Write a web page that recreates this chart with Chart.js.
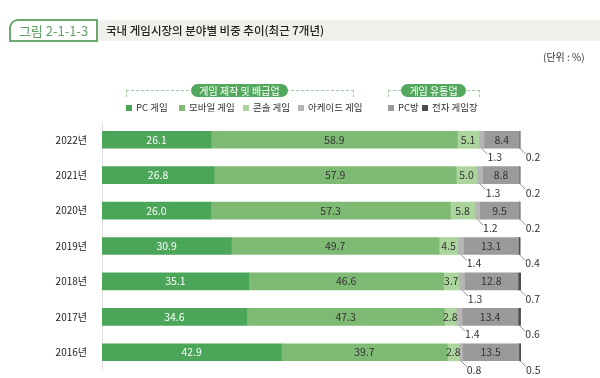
<!DOCTYPE html>
<html>
<head>
<meta charset="utf-8">
<script src="https://cdn.jsdelivr.net/npm/chart.js@4"></script>
<style>
    body { margin: 0; background: #fff; font-family: 'Noto Sans CJK KR', 'Noto Sans', sans-serif; }
    #wrap { position: relative; width: 600px; height: 378px; overflow: hidden; }
    #chart { position: absolute; left: 0; top: 0; }
    .band { position: absolute; left: 96px; top: 20px; width: 504px; height: 21px; background: #eef2ea; }
    .fig { position: absolute; left: 9px; top: 19px; width: 85px; height: 19px; border: 2px solid #6aaa6e; border-radius: 9px 0 0 0; background: #fff; color: #5f9f63; font-size: 13px; line-height: 19px; text-align: center; }
    .title { position: absolute; left: 106px; top: 20px; font-size: 11.5px; line-height: 21px; color: #222; font-weight: 500; }
    .unit { position: absolute; left: 543px; top: 49px; font-size: 10px; color: #333; }
    .bracket { position: absolute; border-top: 1px dashed #9fcc9f; border-left: 1px dashed #9fcc9f; border-right: 1px dashed #9fcc9f; height: 6px; }
    .pill { position: absolute; background: #52a85c; color: #fff; font-size: 10px; line-height: 13px; height: 13px; border-radius: 7px; text-align: center; }
    .item { position: absolute; top: 101px; font-size: 9.5px; color: #333; line-height: 13px; white-space: nowrap; }
    .item i { display: inline-block; width: 6px; height: 6px; margin-right: 4px; vertical-align: 0px; }
</style>
</head>
<body>
<div id="wrap">
    <canvas id="chart" width="600" height="378" style="width:600px;height:378px"></canvas>
    <div class="band"></div>
    <div class="fig">그림 2-1-1-3</div>
    <div class="title">국내 게임시장의 분야별 비중 추이(최근 7개년)</div>
    <div class="unit">(단위 : %)</div>
    <div class="bracket" style="left:126px; top:90px; width:226px;"></div>
    <div class="pill" style="left:191px; top:84px; width:97px;">게임 제작 및 배급업</div>
    <div class="bracket" style="left:388px; top:90px; width:90px;"></div>
    <div class="pill" style="left:401px; top:84px; width:65px;">게임 유통업</div>
    <div id="legend"></div>
</div>
<script>
// Years shown on the vertical axis (newest first)
const years = ['2022년', '2021년', '2020년', '2019년', '2018년', '2017년', '2016년'];

// Shares by sector, in %
const pcGame = [26.1, 26.8, 26.0, 30.9, 35.1, 34.6, 42.9];
const mobileGame = [58.9, 57.9, 57.3, 49.7, 46.6, 47.3, 39.7];
const consoleGame = [5.1, 5.0, 5.8, 4.5, 3.7, 2.8, 2.8];
const arcadeGame = [1.3, 1.3, 1.2, 1.4, 1.3, 1.4, 0.8];
const pcBang = [8.4, 8.8, 9.5, 13.1, 12.8, 13.4, 13.5];
const arcadeHall = [0.2, 0.2, 0.2, 0.4, 0.7, 0.6, 0.5];

const seriesNames = ['PC 게임', '모바일 게임', '콘솔 게임', '아케이드 게임', 'PC방', '전자 게임장'];
const seriesColors = ['#4ba659', '#7fba75', '#abd59c', '#b5b5b5', '#9a9a9a', '#4d4d4d'];
const legendLeft = [126, 179, 243, 298, 388, 422];

// build the html legend
const legendDiv = document.getElementById('legend');
seriesNames.forEach((name, i) => {
    let el = document.createElement('div');
    el.className = 'item';
    el.style.left = legendLeft[i] + 'px';
    el.innerHTML = '<i style="background:' + seriesColors[i] + '"></i>' + name;
    legendDiv.appendChild(el);
});

const allSeries = [pcGame, mobileGame, consoleGame, arcadeGame, pcBang, arcadeHall];

// Value labels: inside the bar, or below with a small leader line for the thin ones
const valueLabels = {
    id: 'valueLabels',
    afterDatasetsDraw(chart) {
        const ctx = chart.ctx;
        ctx.save();
        ctx.font = "10.5px 'Noto Sans CJK KR', sans-serif";
        chart.data.datasets.forEach((ds, i) => {
            const meta = chart.getDatasetMeta(i);
            meta.data.forEach((bar, j) => {
                const v = ds.data[j].toFixed(1);
                const cx = (bar.x + bar.base) / 2;
                if (i == 3 || i == 5) {
                    const bottom = bar.y + bar.height / 2;
                    ctx.strokeStyle = '#777';
                    ctx.lineWidth = 0.8;
                    ctx.beginPath();
                    ctx.moveTo(cx, bottom);
                    ctx.lineTo(cx + 6, bottom + 6);
                    ctx.stroke();
                    ctx.fillStyle = '#333';
                    ctx.textAlign = 'left';
                    ctx.textBaseline = 'middle';
                    ctx.fillText(v, cx + 6, bottom + 9);
                } else {
                    ctx.fillStyle = i == 0 ? '#fff' : '#333';
                    ctx.textAlign = 'center';
                    ctx.textBaseline = 'middle';
                    ctx.fillText(v, cx, bar.y);
                }
            });
        });
        ctx.restore();
    }
};

const dataChart = new Chart(document.getElementById('chart'), {
    type: 'bar',
    data: {
        labels: years,
        datasets: allSeries.map((s, i) => ({
            label: seriesNames[i],
            data: s,
            backgroundColor: seriesColors[i],
            barThickness: 17
        }))
    },
    options: {
        indexAxis: 'y',
        responsive: false,
        animation: false,
        layout: { padding: { left: 0, right: 79, top: 122, bottom: 8 } },
        plugins: { legend: { display: false }, tooltip: { enabled: false } },
        scales: {
            x: { stacked: true, min: 0, max: 100.2, display: false },
            y: {
                stacked: true,
                grid: { display: false },
                border: { display: true, color: '#e2e2e2', width: 1 },
                ticks: { color: '#222', font: { size: 10, family: "'Noto Sans CJK KR', sans-serif" }, padding: 7 },
                // fixed width, and drop the label padding so the last row is not pushed up
                afterFit: (axis) => {
                    axis.width = 102;
                    axis.paddingTop = 0;
                    axis.paddingBottom = 0;
                }
            }
        }
    },
    plugins: [valueLabels]
});
</script>
</body>
</html>
